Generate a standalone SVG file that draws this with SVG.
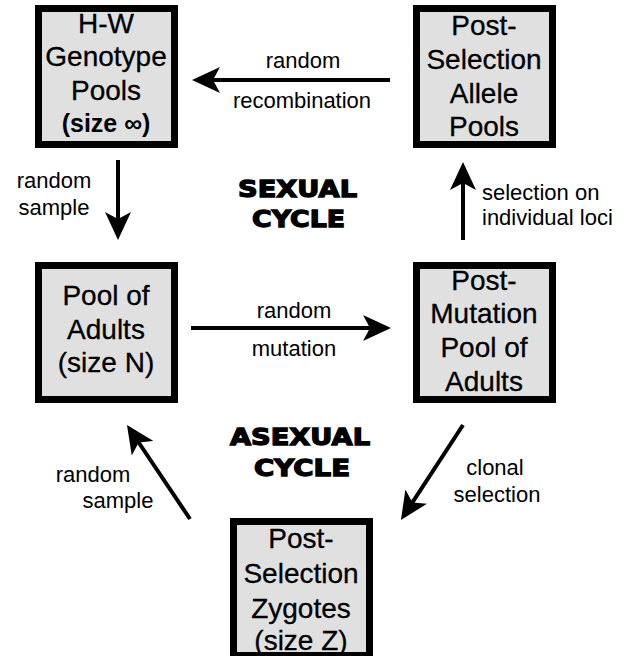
<svg xmlns="http://www.w3.org/2000/svg" width="624" height="656" viewBox="0 0 624 656">
<style>
.box{fill:#e0e0e0;stroke:#000;stroke-width:7}
.bt{font-family:"Liberation Sans",Arial,sans-serif;font-size:28px;text-anchor:middle;fill:#000;stroke:#000;stroke-width:0.3}
.bb{font-weight:bold;font-size:25px;stroke-width:0}
.lb{font-family:"Liberation Sans",Arial,sans-serif;font-size:22px;fill:#000}
.mid{text-anchor:middle}
.cy{font-family:"DejaVu Sans","Liberation Sans",sans-serif;font-weight:bold;font-size:23px;text-anchor:middle;fill:#000;stroke:#000;stroke-width:1.3}
.ar{stroke:#000;stroke-width:4;fill:none;marker-end:url(#ah)}
</style>
<defs>
<marker id="ah" markerUnits="userSpaceOnUse" viewBox="0 0 28 26" refX="10" refY="13" markerWidth="28" markerHeight="26" orient="auto">
<path d="M0,0 L28,13 L0,26 L7,13 Z" fill="#000"/>
</marker>
</defs>
<rect width="624" height="656" fill="#fff"/>
<g id="hw">
<rect class="box" x="38.5" y="8.5" width="136" height="136"/>
<text class="bt" x="106" y="33">H-W</text>
<text class="bt" x="106" y="66">Genotype</text>
<text class="bt" x="106" y="100">Pools</text>
<text class="bt bb" x="106" y="132">(size ∞)</text>
</g>
<g id="allele">
<rect class="box" x="416.5" y="8.5" width="136" height="136"/>
<text class="bt" x="484" y="35">Post-</text>
<text class="bt" x="484" y="69">Selection</text>
<text class="bt" x="484" y="103">Allele</text>
<text class="bt" x="484" y="136">Pools</text>
</g>
<g id="adults">
<rect class="box" x="38.5" y="265.5" width="136" height="134"/>
<text class="bt" x="106" y="305">Pool of</text>
<text class="bt" x="106" y="339">Adults</text>
<text class="bt" x="106" y="372">(size N)</text>
</g>
<g id="mutation">
<rect class="box" x="416.5" y="265.5" width="136" height="134"/>
<text class="bt" x="484" y="290">Post-</text>
<text class="bt" x="484" y="323">Mutation</text>
<text class="bt" x="484" y="357">Pool of</text>
<text class="bt" x="484" y="391">Adults</text>
</g>
<g id="zygotes">
<rect class="box" x="233.5" y="521.5" width="136" height="134"/>
<text class="bt" x="301" y="548">Post-</text>
<text class="bt" x="301" y="583">Selection</text>
<text class="bt" x="301" y="618">Zygotes</text>
<text class="bt" x="301" y="650">(size Z)</text>
</g>
<g id="titles">
<text class="cy" x="297.5" y="197" textLength="119" lengthAdjust="spacingAndGlyphs">SEXUAL</text>
<text class="cy" x="298.5" y="227" textLength="93" lengthAdjust="spacingAndGlyphs">CYCLE</text>
<text class="cy" x="300" y="445" textLength="140" lengthAdjust="spacingAndGlyphs">ASEXUAL</text>
<text class="cy" x="302" y="476" textLength="96" lengthAdjust="spacingAndGlyphs">CYCLE</text>
</g>
<g id="connectors">
<line class="ar" x1="390" y1="80" x2="210" y2="80"/>
<line class="ar" x1="118" y1="160" x2="118" y2="222"/>
<line class="ar" x1="463" y1="240" x2="463" y2="180"/>
<line class="ar" x1="191" y1="328" x2="373" y2="328"/>
<line class="ar" x1="463" y1="425" x2="410.8" y2="504.9"/>
<line class="ar" x1="190" y1="519" x2="137" y2="440"/>
</g>
<g id="labels">
<text class="lb mid" x="303" y="68">random</text>
<text class="lb mid" x="302" y="108">recombination</text>
<text class="lb mid" x="54" y="188">random</text>
<text class="lb mid" x="54" y="215">sample</text>
<text class="lb" x="482" y="200">selection on</text>
<text class="lb" x="482" y="225">individual loci</text>
<text class="lb mid" x="294" y="318">random</text>
<text class="lb mid" x="294" y="356">mutation</text>
<text class="lb mid" x="495" y="475">clonal</text>
<text class="lb mid" x="497" y="502">selection</text>
<text class="lb mid" x="93" y="482">random</text>
<text class="lb mid" x="118" y="508">sample</text>
</g>
</svg>
